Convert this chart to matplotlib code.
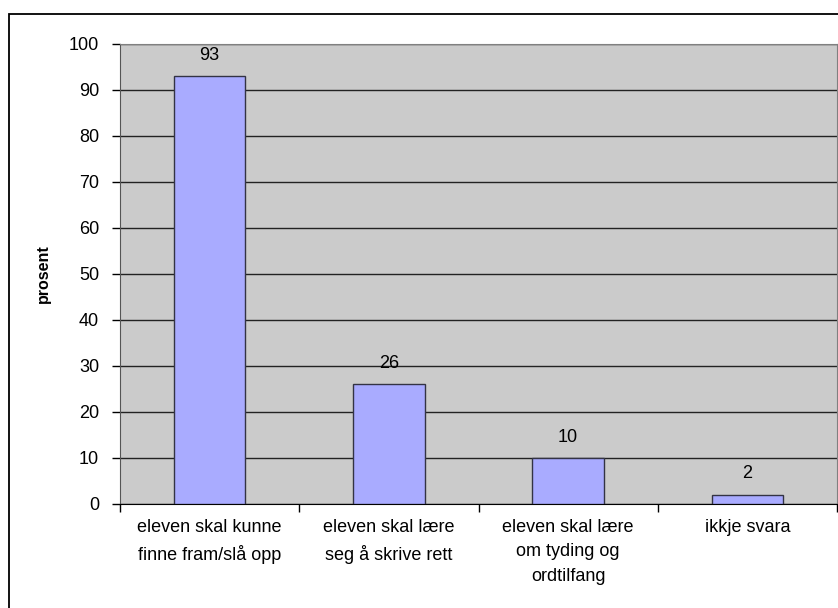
import matplotlib
matplotlib.use("Agg")
import matplotlib.pyplot as plt
from matplotlib.patches import Rectangle
import numpy as np

plt.rcParams['font.family'] = ['Liberation Sans', 'DejaVu Sans']

categories = ["eleven skal kunne\nfinne fram/slå opp",
              "eleven skal lære\nseg å skrive rett",
              "eleven skal lære\nom tyding og\nordtilfang",
              "ikkje svara"]
values = [93, 26, 10, 2]
yticks = [0, 10, 20, 30, 40, 50, 60, 70, 80, 90, 100]

fig = plt.figure(figsize=(8.38, 6.08), dpi=100)
ax = fig.add_axes([120 / 838, 104 / 608, 717 / 838, 460 / 608])

x = np.arange(len(categories))
ax.bar(x, values, width=0.4, color='#A9ABFF', edgecolor='#333344', linewidth=1.0, zorder=3)

for xi, v in zip(x, values):
    ax.annotate(str(v), (xi, v), xytext=(0, 21), textcoords='offset pixels',
                ha='center', va='center', fontsize=13)

ax.set_facecolor('#CBCBCB')
ax.set_xlim(-0.5, len(categories) - 0.5)
ax.set_ylim(0, 100)
ax.set_yticks(yticks)
ax.yaxis.grid(True, color='#222222', linewidth=1.0, zorder=1)
ax.set_axisbelow(True)

ax.set_xticks(np.arange(len(categories) + 1) - 0.5)
ax.set_xticklabels([])
ax.set_xticks(x, minor=True)
ax.set_xticklabels(categories, minor=True, fontsize=13, linespacing=1.55)
ax.tick_params(axis='x', which='major', length=6, width=1, color='black', direction='out')
ax.tick_params(axis='x', which='minor', length=0, pad=11)
ax.tick_params(axis='y', length=6, width=1, color='black', direction='out', pad=9, labelsize=13)

for s in ['top', 'right']:
    ax.spines[s].set_color('#808080')
ax.spines['left'].set_color('#555555')
ax.spines['bottom'].set_color('black')

ax.set_ylabel('prosent', fontsize=11.5, fontweight='bold', labelpad=13)

fig.patches.append(Rectangle((8.5 / 838, -0.01), 1.0, 1 - 14 / 608 + 0.01, transform=fig.transFigure,
                             fill=False, edgecolor='black', linewidth=1.3))

fig.savefig('out.png', dpi=100)
